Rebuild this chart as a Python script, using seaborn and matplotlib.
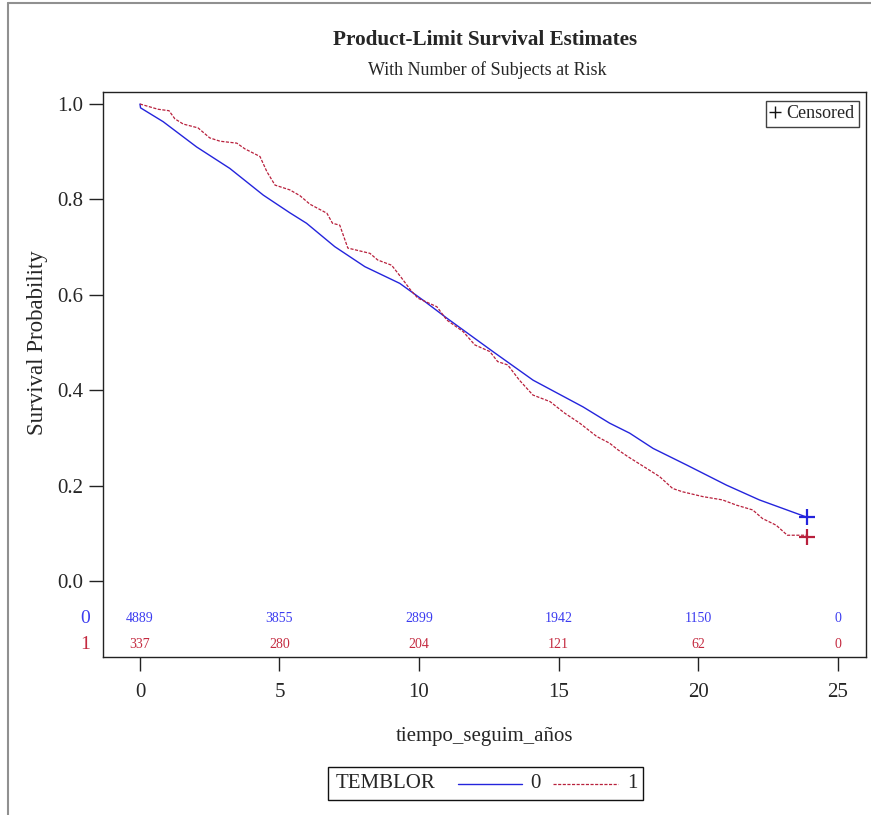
import matplotlib
matplotlib.use("Agg")
import matplotlib.pyplot as plt
import seaborn as sns
import pandas as pd
from matplotlib.lines import Line2D
from matplotlib.patches import Rectangle

# ---- data ----
t0 = [0, 0.02, 0.83, 2.03, 3.22, 4.42, 5.37, 5.97, 6.98, 8.06, 9.31, 10.14, 11.0,
      12.65, 14.09, 15.88, 16.83, 17.55, 18.39, 19.6, 21.02, 22.2, 23.89]
s0 = [1.0, 0.992, 0.963, 0.910, 0.865, 0.809, 0.772, 0.750, 0.701, 0.659, 0.624, 0.589, 0.551,
      0.481, 0.421, 0.365, 0.331, 0.310, 0.278, 0.243, 0.201, 0.170, 0.134]

t1 = [0, 0.65, 1.04, 1.25, 1.55, 2.08, 2.5, 2.87, 3.47, 3.76, 4.3, 4.55, 4.84, 5.37, 5.73,
      6.09, 6.7, 6.9, 7.16, 7.45, 8.24, 8.52, 9.02, 9.38, 9.7, 9.96, 10.64, 11.0, 11.58, 12.0,
      12.54, 12.82, 13.18, 13.6, 14.08, 14.7, 15.22, 15.76, 16.37, 16.83, 17.13, 17.48, 18.16,
      18.62, 19.09, 19.45, 20.17, 20.88, 21.38, 21.96, 22.31, 22.8, 23.2, 23.9]
s1 = [1.0, 0.989, 0.986, 0.969, 0.958, 0.950, 0.929, 0.922, 0.918, 0.906, 0.890, 0.858, 0.830,
      0.820, 0.808, 0.790, 0.771, 0.750, 0.746, 0.698, 0.687, 0.673, 0.662, 0.635, 0.610, 0.593,
      0.575, 0.547, 0.523, 0.495, 0.481, 0.460, 0.453, 0.421, 0.390, 0.376, 0.352, 0.331, 0.303,
      0.289, 0.275, 0.261, 0.236, 0.219, 0.194, 0.187, 0.177, 0.170, 0.159, 0.149, 0.131, 0.117,
      0.096, 0.096]

censor_t = [23.89, 23.9]
censor_s = [0.134, 0.093]

risk_times = [0, 5, 10, 15, 20, 25]
risk0 = [4889, 3855, 2899, 1942, 1150, 0]
risk1 = [337, 280, 204, 121, 62, 0]

groups = ["0", "1"]
xticks = [0, 5, 10, 15, 20, 25]
yticks = [0.0, 0.2, 0.4, 0.6, 0.8, 1.0]

# ---- style ----
sns.set_style("white")
plt.rcParams["font.family"] = ["Liberation Serif", "DejaVu Serif"]
plt.rcParams["axes.linewidth"] = 1.0

BLUE = "#2424DC"
RED = "#B8203C"
BLUE_T = "#3C3CF0"
RED_T = "#C42A40"

fig = plt.figure(figsize=(8.71, 8.15), dpi=100)
ax = fig.add_axes([103 / 871, 1 - 657 / 815, (866 - 103) / 871, (657 - 92) / 815])

df0 = pd.DataFrame({"t": t0, "s": s0})
df1 = pd.DataFrame({"t": t1, "s": s1})
sns.lineplot(data=df0, x="t", y="s", ax=ax, color=BLUE, lw=1.0, estimator=None)
sns.lineplot(data=df1, x="t", y="s", ax=ax, color=RED, lw=0.9, estimator=None,
             linestyle=(0, (2.5, 1.2)))
ax.plot([censor_t[0]], [censor_s[0]], marker="+", ms=11, mew=1.6, color=BLUE, ls="none")
ax.plot([censor_t[1]], [censor_s[1]], marker="+", ms=11, mew=1.6, color=RED, ls="none")

ax.set_xlim(-1.325, 26.02)
ax.set_ylim(-0.1593, 1.0252)
ax.set_xticks(xticks)
ax.set_yticks(yticks)
ax.set_yticklabels([f"{v:.1f}" for v in yticks])
ax.tick_params(axis="both", direction="out", length=10, width=1.0, labelsize=15,
               left=True, bottom=True, color="#222222", pad=4)
ax.tick_params(axis="x", pad=9)
for sp in ax.spines.values():
    sp.set_color("#222222")

ax.set_xlabel("tiempo_seguim_años", fontsize=15, labelpad=18)
ax.set_ylabel("Survival Probability", fontsize=16.5)
ax.yaxis.set_label_coords(-0.072, (0.5 + 0.1593) / 1.1845)

# at-risk table
for x, n0, n1 in zip(risk_times, risk0, risk1):
    ax.text(x, -0.078, str(n0), color=BLUE_T, fontsize=10, ha="center", va="center")
    ax.text(x, -0.134, str(n1), color=RED_T, fontsize=10, ha="center", va="center")
ax.text(-1.95, -0.078, groups[0], color=BLUE_T, fontsize=14, ha="center", va="center",
        clip_on=False)
ax.text(-1.95, -0.134, groups[1], color=RED_T, fontsize=14, ha="center", va="center",
        clip_on=False)

# censored legend
cens_handle = Line2D([], [], marker="+", color="#111111", ls="none", ms=8, mew=1.0)
leg = ax.legend([cens_handle], ["Censored"], loc="upper right", fontsize=13,
                frameon=True, fancybox=False, edgecolor="#111111", handlelength=0.5,
                handletextpad=0.35, borderpad=0.25, borderaxespad=0.35,
                bbox_to_anchor=(0.9985, 0.996))
leg.get_frame().set_linewidth(1.0)

# titles
fig.text(485 / 871, 1 - 40 / 815, "Product-Limit Survival Estimates", ha="center",
         va="center", fontsize=15.2, fontweight="bold")
fig.text(487 / 871, 1 - 70 / 815, "With Number of Subjects at Risk", ha="center",
         va="center", fontsize=13)

# bottom legend
lx0, lx1, ly0, ly1 = 328 / 871, 643 / 871, 1 - 800 / 815, 1 - 767 / 815
fig.patches.append(Rectangle((lx0, ly0), lx1 - lx0, ly1 - ly0, transform=fig.transFigure,
                             fill=False, edgecolor="#111111", lw=1.0))
ym = (ly0 + ly1) / 2
fig.text(336 / 871, ym, "TEMBLOR", ha="left", va="center", fontsize=15)
fig.lines.append(Line2D([458 / 871, 522 / 871], [ym, ym], transform=fig.transFigure,
                        color=BLUE, lw=1.0))
fig.text(535 / 871, ym, groups[0], ha="center", va="center", fontsize=15)
fig.lines.append(Line2D([553 / 871, 618 / 871], [ym, ym], transform=fig.transFigure,
                        color=RED, lw=0.9, ls=(0, (2.5, 1.2))))
fig.text(632 / 871, ym, groups[1], ha="center", va="center", fontsize=15)

# outer frame lines
fig.lines.append(Line2D([8 / 871, 1.0], [1 - 3 / 815, 1 - 3 / 815], transform=fig.transFigure,
                        color="#909090", lw=1.5))
fig.lines.append(Line2D([8 / 871, 8 / 871], [0, 1 - 3 / 815], transform=fig.transFigure,
                        color="#909090", lw=1.5))

fig.savefig("out.png", dpi=100)
